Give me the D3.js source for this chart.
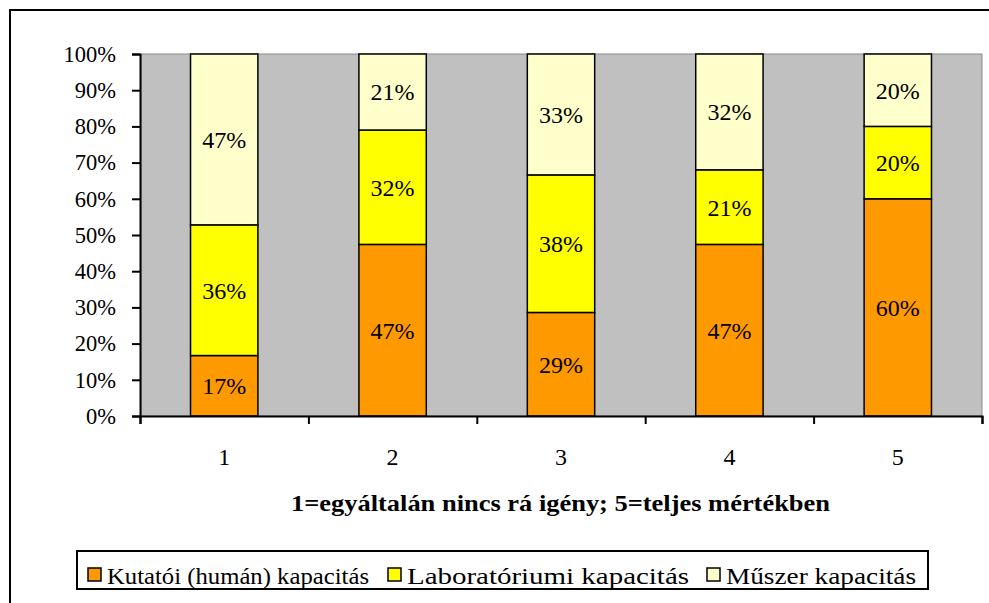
<!DOCTYPE html>
<html>
<head>
<meta charset="utf-8">
<script src="https://cdn.jsdelivr.net/npm/d3@7"></script>
<style>
  body { margin: 0; background: #fff; }
</style>
</head>
<body>
<div id="chart"></div>
<script>
// data
const categories = [`1`, `2`, `3`, `4`, `5`];
const seriesNames = [`Kutatói (humán) kapacitás`, `Laboratóriumi kapacitás`, `Műszer kapacitás`];
const kutatoi = [16.7, 47.4, 28.6, 47.4, 60.0];
const labor = [36.1, 31.6, 38.0, 20.6, 20.0];
const muszer = [47.2, 21.0, 33.4, 32.0, 20.0];
const yTicks = [0, 10, 20, 30, 40, 50, 60, 70, 80, 90, 100];
const axisTitle = `1=egyáltalán nincs rá igény; 5=teljes mértékben`;
const colors = [`#ff9900`, `#ffff00`, `#ffffcc`];

const FONT = `"Liberation Serif"`;
const W = 989, H = 603;
const plot = {left: 140, right: 982, top: 54, bottom: 416};
// legend layout (swatch x, text width)
const legendX = [88, 388, 707];
const legendW = [262, 282, 190];

let svg = d3.select(`#chart`).append(`svg`)
    .attr(`width`, W)
    .attr(`height`, H);

//outer frame (runs off the right / bottom edge)
svg.append(`rect`)
    .attr(`x`, 10).attr(`y`, 10)
    .attr(`width`, 1000).attr(`height`, 620)
    .attr(`fill`, `#fff`)
    .attr(`stroke`, `#000`)
    .attr(`stroke-width`, 2);

//scales
let x = d3.scaleBand().domain(categories)
    .range([plot.left, plot.right])
    .paddingInner(0.6).paddingOuter(0.3);
let xEdge = d3.scaleLinear().domain([0, categories.length]).range([plot.left, plot.right]);
let y = d3.scaleLinear().domain([0, 100]).range([plot.bottom, plot.top]);

//plot background
svg.append(`rect`)
    .attr(`x`, plot.left + 1).attr(`y`, plot.top)
    .attr(`width`, plot.right - plot.left - 1)
    .attr(`height`, plot.bottom - plot.top)
    .attr(`fill`, `#c0c0c0`)
    .attr(`stroke`, `#8a8a8a`)
    .attr(`stroke-width`, 1);

//stack data
let rows = categories.map((c, i) => ({cat: c, s0: kutatoi[i], s1: labor[i], s2: muszer[i]}));
let stacked = d3.stack().keys([`s0`, `s1`, `s2`])(rows);

let groups = svg.append(`g`).attr(`class`, `bars`)
    .selectAll(`g`)
    .data(stacked)
    .enter()
    .append(`g`)
    .attr(`fill`, (d, i) => colors[i]);

groups.selectAll(`rect`)
    .data(d => d)
    .enter()
    .append(`rect`)
    .attr(`x`, d => x(d.data.cat))
    .attr(`width`, x.bandwidth())
    .attr(`y`, d => y(d[1]))
    .attr(`height`, d => y(d[0]) - y(d[1]))
    .attr(`stroke`, `#000`)
    .attr(`stroke-width`, 1.5);

groups.selectAll(`text`)
    .data(d => d)
    .enter()
    .append(`text`)
    .attr(`x`, d => x(d.data.cat) + x.bandwidth() / 2)
    .attr(`y`, d => (y(d[0]) + y(d[1])) / 2)
    .attr(`dy`, `0.35em`)
    .attr(`text-anchor`, `middle`)
    .attr(`fill`, `#000`)
    .style(`font-family`, FONT)
    .style(`font-size`, `24px`)
    .text(d => Math.round(d[1] - d[0]) + `%`);

//Y axis
let yAxis = svg.append(`g`)
    .attr(`class`, `y axis`)
    .attr(`transform`, `translate(${plot.left},0)`)
    .call(d3.axisLeft(y).tickValues(yTicks).tickSize(8).tickPadding(16).tickFormat(d => d + `%`));
yAxis.attr(`font-family`, null).attr(`font-size`, null);
yAxis.select(`.domain`).attr(`stroke-width`, 2);
yAxis.selectAll(`line`).attr(`stroke-width`, 2);
yAxis.selectAll(`text`)
    .style(`font-family`, FONT)
    .style(`font-size`, `22.5px`);

//X axis
let xAxis = svg.append(`g`)
    .attr(`class`, `x axis`)
    .attr(`transform`, `translate(0,${plot.bottom})`)
    .call(d3.axisBottom(xEdge).tickValues(d3.range(categories.length + 1)).tickSize(8).tickFormat(``));
xAxis.select(`.domain`).attr(`stroke-width`, 2);
xAxis.selectAll(`line`).attr(`stroke-width`, 2);

svg.append(`g`)
    .attr(`class`, `x labels`)
    .selectAll(`text`)
    .data(categories)
    .enter()
    .append(`text`)
    .attr(`x`, d => x(d) + x.bandwidth() / 2)
    .attr(`y`, 465)
    .attr(`text-anchor`, `middle`)
    .style(`font-family`, FONT)
    .style(`font-size`, `24px`)
    .text(d => d);

svg.append(`text`)
    .attr(`x`, 291)
    .attr(`y`, 511)
    .attr(`textLength`, 539)
    .attr(`lengthAdjust`, `spacingAndGlyphs`)
    .style(`font-family`, FONT)
    .style(`font-size`, `24px`)
    .style(`font-weight`, `bold`)
    .text(axisTitle);

//legend
let legend = svg.append(`g`).attr(`class`, `legend`);
legend.append(`rect`)
    .attr(`x`, 77).attr(`y`, 551)
    .attr(`width`, 851).attr(`height`, 38)
    .attr(`fill`, `#fff`)
    .attr(`stroke`, `#000`)
    .attr(`stroke-width`, 2);

seriesNames.forEach((name, i) => {
    legend.append(`rect`)
        .attr(`x`, legendX[i]).attr(`y`, 568)
        .attr(`width`, 13).attr(`height`, 13)
        .attr(`fill`, colors[i])
        .attr(`stroke`, `#000`)
        .attr(`stroke-width`, 1.5);
    legend.append(`text`)
        .attr(`x`, legendX[i] + 19)
        .attr(`y`, 584)
        .attr(`textLength`, legendW[i])
        .attr(`lengthAdjust`, `spacingAndGlyphs`)
        .style(`font-family`, FONT)
        .style(`font-size`, `24px`)
        .text(name);
});
</script>
</body>
</html>
